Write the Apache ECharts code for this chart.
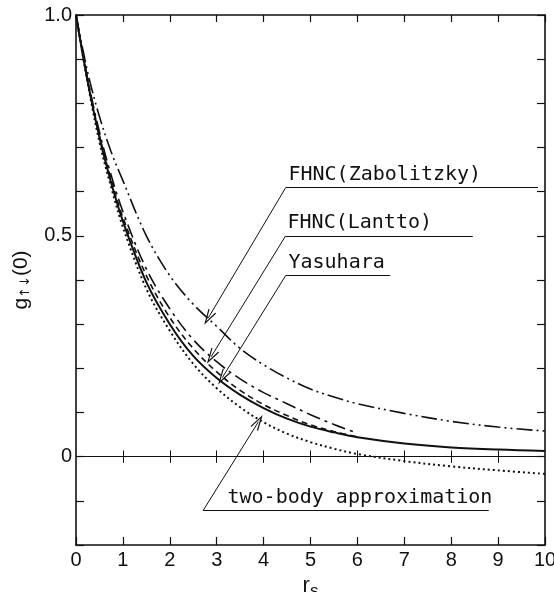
<!DOCTYPE html>
<html>
<head>
<meta charset="utf-8">
<script src="https://cdn.jsdelivr.net/npm/echarts@6/dist/echarts.min.js"></script>
<style>
  html, body { margin: 0; padding: 0; background: #fff; }
  #chart { width: 554px; height: 592px; }
</style>
</head>
<body>
<div id="chart"></div>
<script>
// r_s sample points
const rsGrid = [0, 0.25, 0.5, 0.75, 1, 1.5, 2, 2.5, 3, 3.5, 4, 4.5, 5, 5.5, 6, 7, 8, 9, 10];
const rsShort = rsGrid.slice(0, 15); // curves that stop at r_s = 6

const gZabolitzky = [1, 0.87, 0.77, 0.69, 0.625, 0.5, 0.41, 0.345, 0.295, 0.245, 0.208, 0.178, 0.153, 0.135, 0.12, 0.098, 0.08, 0.067, 0.058];
const gLantto = [1, 0.855, 0.735, 0.637, 0.555, 0.425, 0.335, 0.265, 0.215, 0.176, 0.145, 0.12, 0.095, 0.073, 0.053];
const gDashed = [1, 0.852, 0.727, 0.627, 0.542, 0.41, 0.315, 0.245, 0.192, 0.15, 0.118, 0.093, 0.072, 0.057, 0.045];
const gYasuhara = [1, 0.849, 0.723, 0.62, 0.533, 0.395, 0.3, 0.228, 0.178, 0.14, 0.11, 0.086, 0.068, 0.055, 0.044, 0.03, 0.021, 0.016, 0.013];
const gTwoBody = [1, 0.845, 0.712, 0.61, 0.52, 0.38, 0.285, 0.21, 0.155, 0.112, 0.078, 0.052, 0.033, 0.018, 0.006, -0.01, -0.022, -0.031, -0.039];

const yLabelTicks = [0, 0.5, 1.0];
const zeroLineTicks = [1, 2, 3, 4, 5, 6, 7, 8, 9];

// labels with underline + leader arrow (data coords)
const annotations = [
  { text: "FHNC(Zabolitzky)", under: [4.47, 9.85, 0.609], textX: 4.53, tip: [2.82, 0.314] },
  { text: "FHNC(Lantto)", under: [4.47, 8.46, 0.5], textX: 4.51, tip: [2.88, 0.226] },
  { text: "Yasuhara", under: [4.47, 6.7, 0.41], textX: 4.53, tip: [3.12, 0.179] },
  { text: "two-body approximation", under: [2.71, 8.8, -0.122], textX: 3.23, tip: [3.89, 0.079] },
];

const zip = (xs, ys) => xs.map((x, i) => [x, ys[i]]);
const black = "#111";
const arrowHead = "path://M0,10 L5,0 L10,10 L8.6,10 L5,2.6 L1.4,10 Z";

const annoLines = [];
annotations.forEach((a) => {
  annoLines.push([
    { coord: [a.under[0], a.under[2]], symbol: "none" },
    { coord: [a.under[1], a.under[2]], symbol: "none" },
  ]);
  annoLines.push([
    { coord: [a.under[0], a.under[2]], symbol: "none" },
    { coord: a.tip, symbol: arrowHead, symbolSize: [9, 16] },
  ]);
});
zeroLineTicks.forEach((t) => {
  annoLines.push([
    { coord: [t, -0.014], symbol: "none" },
    { coord: [t, 0.014], symbol: "none" },
  ]);
});
annoLines.push([
  { coord: [0, 0], symbol: "none" },
  { coord: [10, 0], symbol: "none" },
]);

const curve = (name, xs, ys, type, width) => ({
  name,
  type: "line",
  data: zip(xs, ys),
  smooth: 0.35,
  showSymbol: false,
  silent: true,
  lineStyle: { color: black, width, type },
});

const myChart = echarts.init(document.getElementById("chart"));
myChart.setOption({
  animation: false,
  grid: { left: 76, right: 9, top: 15, bottom: 47, containLabel: false, outerBoundsMode: "none" },
  xAxis: [
    {
      type: "value",
      min: 0,
      max: 10,
      interval: 1,
      position: "bottom",
      axisLine: { onZero: false, lineStyle: { color: black, width: 1.6 } },
      axisTick: { inside: true, length: 8, lineStyle: { color: black, width: 1.2 } },
      axisLabel: { color: black, fontSize: 20, margin: 5, fontFamily: "Liberation Sans" },
      splitLine: { show: false },
      name: "{r|r}{s|s}",
      nameLocation: "middle",
      nameGap: 26,
      nameMoveOverlap: false,
      nameTextStyle: {
        rich: {
          r: { fontSize: 22, color: black, fontFamily: "Liberation Sans" },
          s: { fontSize: 17, color: black, fontFamily: "Liberation Sans", padding: [12, 0, 0, 0] },
        },
      },
    },
    {
      type: "value",
      min: 0,
      max: 10,
      interval: 1,
      position: "top",
      axisLine: { onZero: false, lineStyle: { color: black, width: 1.6 } },
      axisTick: { inside: true, length: 7, lineStyle: { color: black, width: 1.2 } },
      axisLabel: { show: false },
      splitLine: { show: false },
    },
  ],
  yAxis: [
    {
      type: "value",
      min: -0.2,
      max: 1.0,
      interval: 0.1,
      position: "left",
      axisLine: { onZero: false, lineStyle: { color: black, width: 1.6 } },
      axisTick: { inside: true, length: 8, lineStyle: { color: black, width: 1.2 } },
      axisLabel: {
        color: black,
        fontSize: 20,
        margin: 4,
        fontFamily: "Liberation Sans",
        formatter(val) {
          const hit = yLabelTicks.find((t) => Math.abs(t - val) < 1e-6);
          if (hit === undefined) return "";
          return hit === 0 ? "0" : hit.toFixed(1);
        },
      },
      splitLine: { show: false },
      name: "{g|g}{s|↑↓}{p|(0)}",
      nameLocation: "middle",
      nameRotate: 90,
      nameGap: 44,
      nameMoveOverlap: false,
      nameTextStyle: {
        rich: {
          g: { fontSize: 21, color: black, fontFamily: "Liberation Sans" },
          s: { fontSize: 13, color: black, fontFamily: "DejaVu Sans", padding: [9, 0, 0, 0] },
          p: { fontSize: 21, color: black, fontFamily: "Liberation Sans" },
        },
      },
    },
    {
      type: "value",
      min: -0.2,
      max: 1.0,
      interval: 0.1,
      position: "right",
      axisLine: { onZero: false, lineStyle: { color: black, width: 1.6 } },
      axisTick: { inside: true, length: 8, lineStyle: { color: black, width: 1.2 } },
      axisLabel: { show: false },
      splitLine: { show: false },
    },
  ],
  series: [
    curve("FHNC(Zabolitzky)", rsGrid, gZabolitzky, [16, 4, 2, 4, 2, 4], 1.6),
    curve("FHNC(Lantto)", rsShort, gLantto, [14, 5, 3, 5], 1.6),
    curve("dashed", rsShort, gDashed, [6, 4], 1.6),
    {
      ...curve("Yasuhara", rsGrid, gYasuhara, "solid", 2),
      markLine: {
        silent: true,
        animation: false,
        label: { show: false },
        lineStyle: { color: black, width: 1, type: "solid" },
        emphasis: { disabled: true },
        data: annoLines,
      },
    },
    curve("two-body approximation", rsGrid, gTwoBody, [2, 3], 2),
  ],
});

// annotation texts placed through the grid's data-to-pixel mapping
myChart.setOption({
  graphic: annotations.map((a) => {
    const p = myChart.convertToPixel({ gridIndex: 0 }, [a.textX, a.under[2]]);
    return {
      type: "text",
      x: p[0],
      y: p[1] - 3,
      silent: true,
      style: {
        text: a.text,
        fontSize: 20,
        fontFamily: "DejaVu Sans Mono",
        fill: black,
        align: "left",
        verticalAlign: "bottom",
      },
    };
  }),
});
</script>
</body>
</html>
